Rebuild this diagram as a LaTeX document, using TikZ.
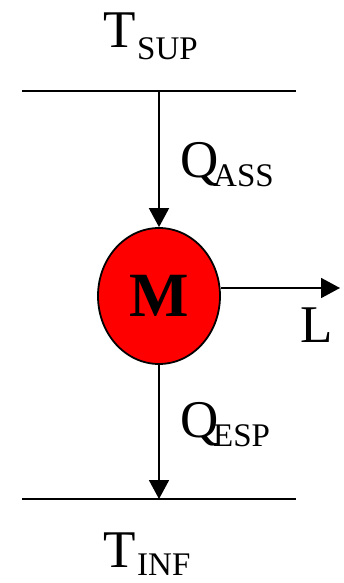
\documentclass[tikz,border=0pt]{standalone}
\usepackage{fontspec}
\setmainfont{Liberation Serif}
\usetikzlibrary{arrows.meta,shapes.geometric}
\tikzset{
  big/.style={inner sep=0pt, anchor=base west, font=\fontsize{53}{53}\selectfont},
  small/.style={inner sep=0pt, anchor=base west, font=\fontsize{33}{33}\selectfont},
  wall/.style={line width=1.8pt},
  flow/.style={line width=1.8pt, -{Triangle[length=19pt,width=20pt]}},
}
\begin{document}
\begin{tikzpicture}[x=1pt,y=-1pt]
\useasboundingbox (0,0) rectangle (344,583);
% labels
\node[big] (tsup) at (103,48) {T};
\node[small] (sup) at (137,60) {SUP};
\node[big] (qass) at (180,177) {Q};
\node[small] (ass) at (213,186) {ASS};
\node[big] (qesp) at (180,437) {Q};
\node[small] (esp) at (213,446) {ESP};
\node[big] (tinf) at (103,567) {T};
\node[small] (inf) at (137,575) {INF};
\node[big] (L) at (300,342) {L};
% walls
\coordinate (tl) at (22,91);
\coordinate (tr) at (296,91);
\coordinate (tm) at (159,91);
\coordinate (bl) at (22,499);
\coordinate (br) at (296,499);
\coordinate (bm) at (159,499);
\coordinate (lend) at (340,288);
\draw[wall] (tl) -- (tr);
\draw[wall] (bl) -- (br);
% machine
\node[ellipse, draw, line width=1.8pt, fill=red, minimum width=122pt, minimum height=136pt, inner sep=0pt,
      font=\fontsize{63}{63}\selectfont\bfseries] (M) at (159,296) {M};
\draw[flow] (tm) -- (M.north);
\draw[flow] (M.south) -- (bm);
\draw[flow] (M.east |- lend) -- (lend);
\end{tikzpicture}
\end{document}
